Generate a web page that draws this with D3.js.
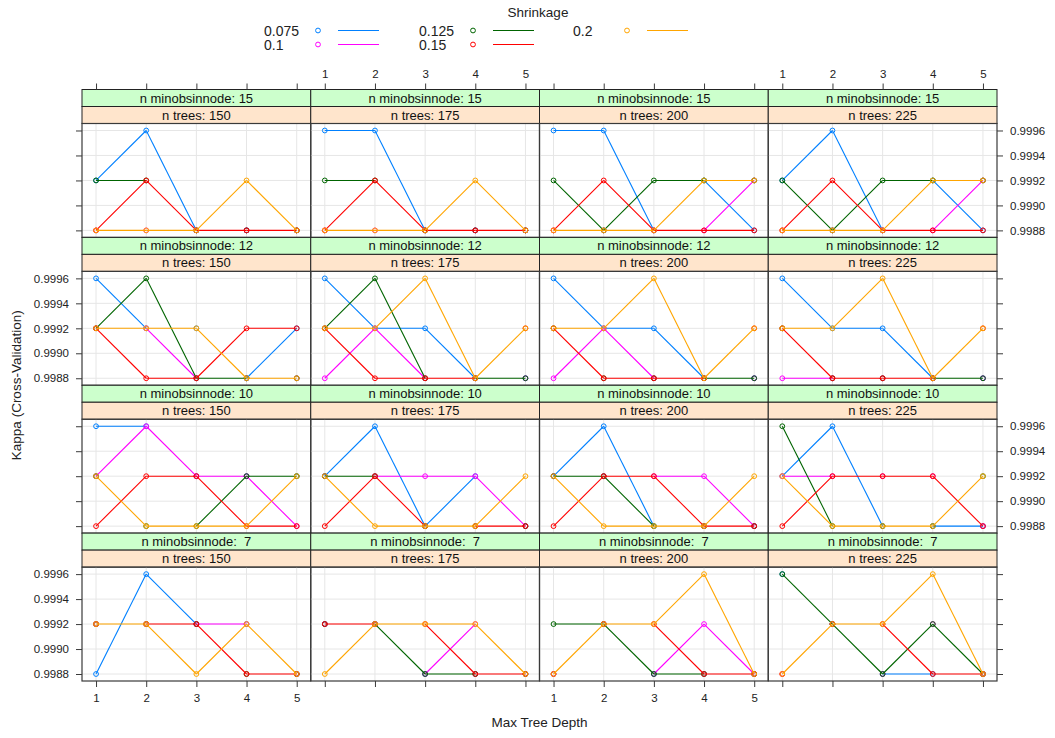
<!DOCTYPE html>
<html>
<head>
<meta charset="utf-8">
<script src="https://cdn.jsdelivr.net/npm/d3@7"></script>
<style>
  body { margin: 0; background: #fff; }
  svg { font-family: "Liberation Sans", Arial, sans-serif; display: block; }
  .pre { white-space: pre; }
</style>
</head>
<body>
<svg id="chart" width="1055" height="738"></svg>
<script>
// ---- data ---------------------------------------------------------------
const shrinkage = ["0.075", "0.1", "0.125", "0.15", "0.2"];
const shrinkColors = ["#0080ff", "#ff00ff", "#006400", "#ff0000", "#ffa500"];
const maxDepth = [1, 2, 3, 4, 5];
const nTrees = [150, 175, 200, 225];
const minObsNode = [15, 12, 10, 7];           // panel rows, top to bottom
const kappaTicks = [0.9988, 0.9990, 0.9992, 0.9994, 0.9996];
const kappaTickLabels = ["0.9988", "0.9990", "0.9992", "0.9994", "0.9996"];

// Each block: one entry per n.trees; inside, one row per shrinkage (0.075 .. 0.2),
// values for interaction depth 1..5
const kappaMinObs15 = [
  [[0.9992,0.9996,0.9988,0.9988,0.9988],[0.9988,0.9988,0.9988,0.9988,0.9988],[0.9992,0.9992,0.9988,0.9988,0.9988],[0.9988,0.9992,0.9988,0.9988,0.9988],[0.9988,0.9988,0.9988,0.9992,0.9988]],
  [[0.9996,0.9996,0.9988,0.9988,0.9988],[0.9988,0.9988,0.9988,0.9988,0.9988],[0.9992,0.9992,0.9988,0.9988,0.9988],[0.9988,0.9992,0.9988,0.9988,0.9988],[0.9988,0.9988,0.9988,0.9992,0.9988]],
  [[0.9996,0.9996,0.9988,0.9992,0.9988],[0.9988,0.9988,0.9988,0.9988,0.9992],[0.9992,0.9988,0.9992,0.9992,0.9992],[0.9988,0.9992,0.9988,0.9988,0.9988],[0.9988,0.9988,0.9988,0.9992,0.9992]],
  [[0.9992,0.9996,0.9988,0.9992,0.9988],[0.9988,0.9988,0.9988,0.9988,0.9992],[0.9992,0.9988,0.9992,0.9992,0.9992],[0.9988,0.9992,0.9988,0.9988,0.9988],[0.9988,0.9988,0.9988,0.9992,0.9992]]
];
const kappaMinObs12 = [
  [[0.9996,0.9992,0.9992,0.9988,0.9992],[0.9992,0.9992,0.9988,0.9988,0.9988],[0.9992,0.9996,0.9988,0.9988,0.9988],[0.9992,0.9988,0.9988,0.9992,0.9992],[0.9992,0.9992,0.9992,0.9988,0.9988]],
  [[0.9996,0.9992,0.9992,0.9988,0.9988],[0.9988,0.9992,0.9988,0.9988,0.9988],[0.9992,0.9996,0.9988,0.9988,0.9988],[0.9992,0.9988,0.9988,0.9988,0.9992],[0.9992,0.9992,0.9996,0.9988,0.9992]],
  [[0.9996,0.9992,0.9992,0.9988,0.9988],[0.9988,0.9992,0.9988,0.9988,0.9988],[0.9992,0.9988,0.9988,0.9988,0.9988],[0.9992,0.9988,0.9988,0.9988,0.9992],[0.9992,0.9992,0.9996,0.9988,0.9992]],
  [[0.9996,0.9992,0.9992,0.9988,0.9988],[0.9988,0.9988,0.9988,0.9988,0.9988],[0.9992,0.9988,0.9988,0.9988,0.9988],[0.9992,0.9988,0.9988,0.9988,0.9992],[0.9992,0.9992,0.9996,0.9988,0.9992]]
];
const kappaMinObs10 = [
  [[0.9996,0.9996,0.9992,0.9992,0.9992],[0.9992,0.9996,0.9992,0.9992,0.9988],[0.9992,0.9988,0.9988,0.9992,0.9992],[0.9988,0.9992,0.9992,0.9988,0.9988],[0.9992,0.9988,0.9988,0.9988,0.9992]],
  [[0.9992,0.9996,0.9988,0.9992,0.9988],[0.9992,0.9992,0.9992,0.9992,0.9988],[0.9992,0.9992,0.9988,0.9988,0.9988],[0.9988,0.9992,0.9988,0.9988,0.9988],[0.9992,0.9988,0.9988,0.9988,0.9992]],
  [[0.9992,0.9996,0.9988,0.9988,0.9988],[0.9992,0.9992,0.9992,0.9992,0.9988],[0.9992,0.9992,0.9988,0.9988,0.9988],[0.9988,0.9992,0.9992,0.9988,0.9988],[0.9992,0.9988,0.9988,0.9988,0.9992]],
  [[0.9992,0.9996,0.9988,0.9988,0.9988],[0.9992,0.9992,0.9992,0.9992,0.9988],[0.9996,0.9988,0.9988,0.9988,0.9992],[0.9988,0.9992,0.9992,0.9992,0.9988],[0.9992,0.9988,0.9988,0.9988,0.9992]]
];
const kappaMinObs7 = [
  [[0.9988,0.9996,0.9992,0.9992,0.9988],[0.9992,0.9992,0.9992,0.9992,0.9988],[0.9992,0.9992,0.9992,0.9988,0.9988],[0.9992,0.9992,0.9992,0.9988,0.9988],[0.9992,0.9992,0.9988,0.9992,0.9988]],
  [[0.9992,0.9992,0.9988,0.9988,0.9988],[0.9992,0.9992,0.9988,0.9992,0.9988],[0.9992,0.9992,0.9988,0.9988,0.9988],[0.9992,0.9992,0.9992,0.9988,0.9988],[0.9988,0.9992,0.9992,0.9992,0.9988]],
  [[0.9988,0.9992,0.9988,0.9988,0.9988],[0.9988,0.9992,0.9988,0.9992,0.9988],[0.9992,0.9992,0.9988,0.9988,0.9988],[0.9988,0.9992,0.9992,0.9988,0.9988],[0.9988,0.9992,0.9992,0.9996,0.9988]],
  [[0.9996,0.9992,0.9988,0.9988,0.9988],[0.9988,0.9992,0.9988,0.9992,0.9988],[0.9996,0.9992,0.9988,0.9992,0.9988],[0.9988,0.9992,0.9992,0.9988,0.9988],[0.9988,0.9992,0.9992,0.9996,0.9988]]
];
const kappaByRow = [kappaMinObs15, kappaMinObs12, kappaMinObs10, kappaMinObs7];

// ---- layout -------------------------------------------------------------
const svg = d3.select("#chart");
const frame = { left: 82, right: 997, top: 89.5, bottom: 681 };
const colW = (frame.right - frame.left) / nTrees.length;
const rowH = (frame.bottom - frame.top) / minObsNode.length;
const stripH = 17;
const plotH = rowH - 2 * stripH;
const tickLen = 6;
const axisColor = "#3a3a3a";

const x = d3.scaleLinear().domain([0.72, 5.28]).range([0, colW]);
const y = d3.scaleLinear().domain([0.998744, 0.999656]).range([plotH, 0]);

const line = d3.line().x(d => x(d.depth)).y(d => y(d.kappa));

// Split a series into depth-to-depth segments; a segment that a later
// series traces exactly is left to that series (it is painted over anyway).
function visibleSegments(series, s) {
  const vals = series[s];
  const segs = [];
  for (let i = 0; i < vals.length - 1; i++) {
    const covered = series.slice(s + 1).some(v => v[i] === vals[i] && v[i + 1] === vals[i + 1]);
    if (!covered) {
      segs.push([{ depth: maxDepth[i], kappa: vals[i] }, { depth: maxDepth[i + 1], kappa: vals[i + 1] }]);
    }
  }
  return segs;
}

minObsNode.forEach((mo, r) => {
  nTrees.forEach((nt, c) => {
    const px = frame.left + c * colW;
    const py = frame.top + r * rowH;
    const g = svg.append("g").attr("transform", `translate(${px},${py})`);

    // strips: outer variable on top (green), inner below (peach)
    g.append("rect").attr("x", 0).attr("y", 0).attr("width", colW).attr("height", stripH)
      .attr("fill", "#ccffcc").attr("stroke", "#222").attr("stroke-width", 1);
    g.append("text").attr("class", "pre").attr("x", colW / 2).attr("y", stripH / 2 + 4.6)
      .attr("text-anchor", "middle").attr("font-size", 13).attr("fill", "#111")
      .text(`n minobsinnode: ${String(mo).padStart(2, " ")}`);
    g.append("rect").attr("x", 0).attr("y", stripH).attr("width", colW).attr("height", stripH)
      .attr("fill", "#ffe5cc").attr("stroke", "#222").attr("stroke-width", 1);
    g.append("text").attr("x", colW / 2).attr("y", stripH * 1.5 + 4.6)
      .attr("text-anchor", "middle").attr("font-size", 13).attr("fill", "#111")
      .text(`n trees: ${nt}`);

    const p = g.append("g").attr("transform", `translate(0,${2 * stripH})`);

    // grid
    p.selectAll("line.gx").data(maxDepth).join("line")
      .attr("x1", d => x(d)).attr("x2", d => x(d)).attr("y1", 0).attr("y2", plotH)
      .attr("stroke", "#e6e6e6").attr("stroke-width", 1);
    p.selectAll("line.gy").data(kappaTicks).join("line")
      .attr("x1", 0).attr("x2", colW).attr("y1", d => y(d)).attr("y2", d => y(d))
      .attr("stroke", "#e6e6e6").attr("stroke-width", 1);

    // series, drawn in shrinkage order
    const series = kappaByRow[r][c];
    series.forEach((vals, s) => {
      p.selectAll(null).data(visibleSegments(series, s)).join("path")
        .attr("d", line).attr("fill", "none")
        .attr("stroke", shrinkColors[s]).attr("stroke-width", 1.1);
      p.selectAll(null).data(vals).join("circle")
        .attr("cx", (d, i) => x(maxDepth[i])).attr("cy", d => y(d)).attr("r", 2.4)
        .attr("fill", "none").attr("stroke", shrinkColors[s]).attr("stroke-width", 1);
    });

    p.append("rect").attr("x", 0).attr("y", 0).attr("width", colW).attr("height", plotH)
      .attr("fill", "none").attr("stroke", axisColor).attr("stroke-width", 1.2);

    // outer axes, alternating labels as in lattice
    if (c === 0) {
      const ax = d3.axisLeft(y).tickValues(kappaTicks).tickSize(tickLen).tickPadding(7)
        .tickFormat((d, i) => (r % 2 === 1 ? kappaTickLabels[i] : ""));
      styleAxis(p.append("g").call(ax));
    }
    if (c === nTrees.length - 1) {
      const ax = d3.axisRight(y).tickValues(kappaTicks).tickSize(tickLen).tickPadding(7)
        .tickFormat((d, i) => (r % 2 === 0 ? kappaTickLabels[i] : ""));
      styleAxis(p.append("g").attr("transform", `translate(${colW},0)`).call(ax));
    }
    if (r === minObsNode.length - 1) {
      const ax = d3.axisBottom(x).tickValues(maxDepth).tickSize(tickLen).tickPadding(7)
        .tickFormat(d => (c % 2 === 0 ? d : ""));
      styleAxis(p.append("g").attr("transform", `translate(0,${plotH})`).call(ax));
    }
    if (r === 0) {
      const ax = d3.axisTop(x).tickValues(maxDepth).tickSize(tickLen).tickPadding(6)
        .tickFormat(d => (c % 2 === 1 ? d : ""));
      styleAxis(g.append("g").call(ax));
    }
  });
});

function styleAxis(sel) {
  sel.select(".domain").remove();
  sel.selectAll(".tick line").attr("stroke", axisColor);
  sel.selectAll(".tick text").attr("font-size", 11.5).attr("fill", "#222")
    .attr("font-family", "Liberation Sans, Arial, sans-serif");
}

// ---- axis titles --------------------------------------------------------
svg.append("text").attr("x", (frame.left + frame.right) / 2).attr("y", 727)
  .attr("text-anchor", "middle").attr("font-size", 13.5).attr("fill", "#222")
  .text("Max Tree Depth");
svg.append("text").attr("transform", `translate(21,${(frame.top + frame.bottom) / 2}) rotate(-90)`)
  .attr("text-anchor", "middle").attr("font-size", 13.5).attr("fill", "#222")
  .text("Kappa (Cross-Validation)");

// ---- legend -------------------------------------------------------------
svg.append("text").attr("x", 538).attr("y", 17).attr("text-anchor", "middle")
  .attr("font-size", 13.5).attr("fill", "#222").text("Shrinkage");
const legendColX = [264, 419, 573];
const legendRowY = [31, 45];
shrinkage.forEach((lab, i) => {
  const cx = legendColX[Math.floor(i / 2)];
  const cy = legendRowY[i % 2];
  const lg = svg.append("g");
  lg.append("text").attr("x", cx).attr("y", cy + 5).attr("font-size", 14).attr("fill", "#222").text(lab);
  lg.append("circle").attr("cx", cx + 54).attr("cy", cy - 0.5).attr("r", 2.4)
    .attr("fill", "none").attr("stroke", shrinkColors[i]).attr("stroke-width", 1);
  lg.append("line").attr("x1", cx + 74).attr("x2", cx + 115).attr("y1", cy - 0.5).attr("y2", cy - 0.5)
    .attr("stroke", shrinkColors[i]).attr("stroke-width", 1.1);
});
</script>
</body>
</html>
